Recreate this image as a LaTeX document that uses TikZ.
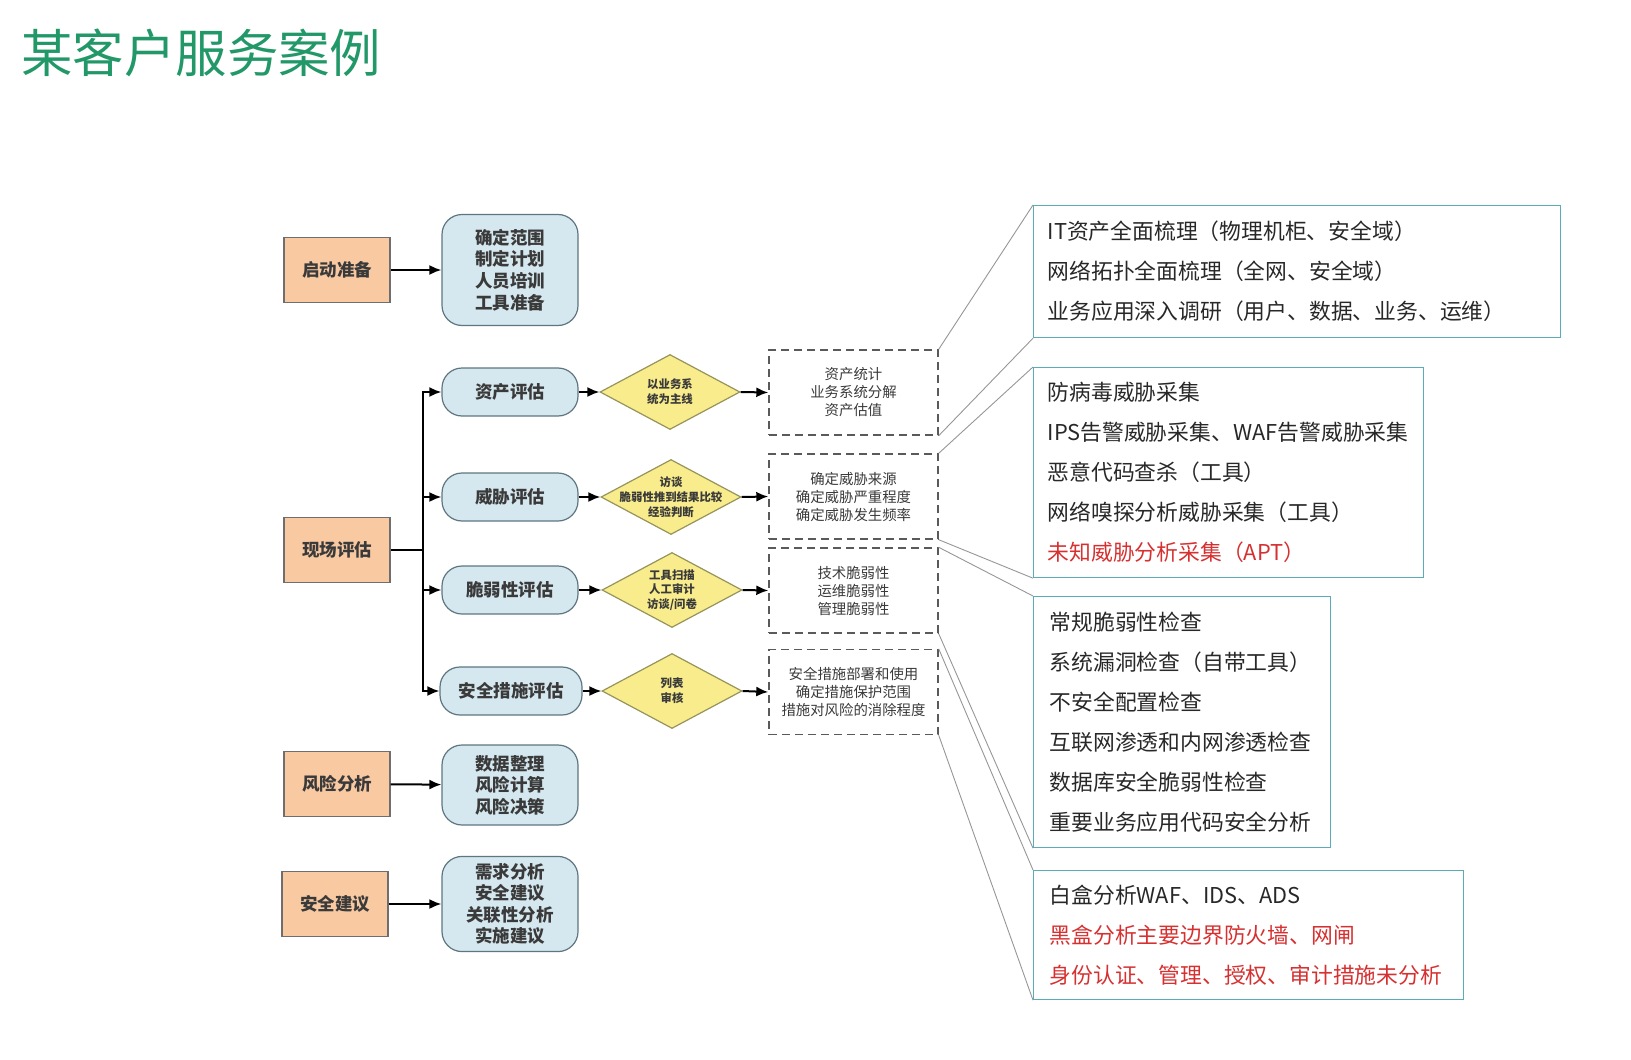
\documentclass[tikz,border=0pt]{standalone}
\usepackage{fontspec}
\usepackage{xcolor}
\setmainfont{Noto Sans CJK SC}
\usepackage{tikz}
\usetikzlibrary{shapes,shapes.geometric,arrows.meta,positioning}
\definecolor{titlegreen}{RGB}{34,152,104}
\definecolor{darktext}{RGB}{58,58,58}
\definecolor{stagefill}{RGB}{249,201,162}
\definecolor{stageline}{RGB}{110,110,110}
\definecolor{taskfill}{RGB}{214,232,239}
\definecolor{taskline}{RGB}{94,118,128}
\definecolor{checkfill}{RGB}{248,236,140}
\definecolor{checkline}{RGB}{150,148,90}
\definecolor{resultline}{RGB}{90,90,90}
\definecolor{infoline}{RGB}{90,172,184}
\definecolor{infotext}{RGB}{40,40,40}
\definecolor{alertred}{RGB}{214,48,48}
\definecolor{zoomgray}{RGB}{150,150,150}
\tikzset{
  stage/.style={draw=stageline, fill=stagefill, line width=0.6pt, minimum width=53pt, minimum height=32.5pt, text=darktext, font=\fontsize{8.75}{10.8}\selectfont\bfseries},
  task/.style={draw=taskline, fill=taskfill, line width=0.6pt, rounded corners=10pt, minimum width=68pt, align=center, text=darktext, font=\fontsize{8.75}{10.8}\selectfont\bfseries},
  check/.style={diamond, draw=checkline, fill=checkfill, line width=0.6pt, minimum width=70pt, minimum height=37.5pt, inner sep=0pt},
  checktext/.style={align=center, inner sep=0pt, text=darktext, font=\fontsize{5.7}{7.4}\selectfont\bfseries},
  result/.style={draw=resultline, dash pattern=on 4pt off 2.5pt, line width=0.7pt, minimum width=84.5pt, minimum height=42.5pt, align=center, text=darktext, font=\fontsize{7.2}{9}\selectfont},
  infobox/.style={draw=infoline, line width=0.6pt, anchor=north west, align=left, inner xsep=7pt, text=infotext, font=\fontsize{10.9}{20}\selectfont},
  flow/.style={-{Latex[length=6pt,width=5pt]}, line width=1pt},
  zoomline/.style={draw=zoomgray, line width=0.45pt}
}
\begin{document}
\begin{tikzpicture}[x=0.5pt,y=-0.5pt]
\useasboundingbox (0,0) rectangle (1631,1059);
\node[anchor=west, inner sep=0pt, text=titlegreen, font=\fontsize{25.7}{30}\selectfont] (title) at (21,53) {某客户服务案例};

% left column
\node[stage] (start) at (337,270) {启动准备};
\node[task, minimum height=55.5pt] (prep) at (510,270) {确定范围\\制定计划\\人员培训\\工具准备};
\node[stage] (onsite) at (337,550) {现场评估};
\node[task, minimum height=24pt] (asset) at (510,392) {资产评估};
\node[task, minimum height=24pt] (threat) at (510,497) {威胁评估};
\node[task, minimum height=24pt] (vuln) at (510,590) {脆弱性评估};
\node[task, minimum height=24pt, minimum width=71pt] (measure) at (511,691) {安全措施评估};
\node[stage] (risk) at (337,784) {风险分析};
\node[task, minimum height=40pt] (riskwork) at (510,785) {数据整理\\风险计算\\风险决策};
\node[stage] (advice) at (335,904) {安全建议};
\node[task, minimum height=47pt] (advicework) at (510,904) {需求分析\\安全建议\\关联性分析\\实施建议};

% methods
\node[check, label={[checktext]center:{以业务系\\统为主线}}] (check1) at (670,392) {};
\node[check, label={[checktext]center:{访谈\\脆弱性推到结果比较\\经验判断}}] (check2) at (671,497) {};
\node[check, label={[checktext]center:{工具扫描\\人工审计\\访谈/问卷}}] (check3) at (672,590) {};
\node[check, label={[checktext]center:{列表\\审核}}] (check4) at (672,691) {};

% outcomes
\node[result] (result1) at (853.5,392.5) {资产统计\\业务系统分解\\资产估值};
\node[result] (result2) at (853.5,496.5) {确定威胁来源\\确定威胁严重程度\\确定威胁发生频率};
\node[result] (result3) at (853.5,590.5) {技术脆弱性\\运维脆弱性\\管理脆弱性};
\node[result] (result4) at (853.5,692) {安全措施部署和使用\\确定措施保护范围\\措施对风险的消除程度};

% details
\node[infobox, text width=249.5pt, minimum height=66pt] (infoA) at (1033,205) {IT资产全面梳理（物理机柜、安全域）\\网络拓扑全面梳理（全网、安全域）\\业务应用深入调研（用户、数据、业务、运维）};
\node[infobox, text width=181pt, minimum height=105pt] (infoB) at (1033,367) {防病毒威胁采集\\IPS告警威胁采集、WAF告警威胁采集\\恶意代码查杀（工具）\\网络嗅探分析威胁采集（工具）\\\textcolor{alertred}{未知威胁分析采集（APT）}};
\node[infobox, inner xsep=8pt, text width=132.5pt, minimum height=125.5pt] (infoC) at (1033,596) {常规脆弱性检查\\系统漏洞检查（自带工具）\\不安全配置检查\\互联网渗透和内网渗透检查\\数据库安全脆弱性检查\\重要业务应用代码安全分析};
\node[infobox, inner xsep=8pt, text width=199pt, minimum height=64.5pt] (infoD) at (1033,870) {白盒分析WAF、IDS、ADS\\\textcolor{alertred}{黑盒分析主要边界防火墙、网闸}\\\textcolor{alertred}{身份认证、管理、授权、审计措施未分析}};

% connectors
\draw[flow] (start) -- (prep);
\draw[flow] (risk) -- (riskwork);
\draw[flow] (advice) -- (advicework);
\coordinate (trunk) at (423,550);
\draw[line width=1pt] (onsite.east) -- (trunk);
\foreach \n in {asset,threat,vuln,measure}
  \draw[flow] (trunk) |- (\n.west);
\foreach \i/\n in {1/asset,2/threat,3/vuln,4/measure} {
  \draw[flow] (\n.east) -- (check\i.west);
  \draw[flow] (check\i.east) -- (result\i.west);
}
\foreach \i/\b in {1/A,2/B,3/C,4/D} {
  \draw[zoomline] (result\i.north east) -- (info\b.north west);
  \draw[zoomline] (result\i.south east) -- (info\b.south west);
}
\end{tikzpicture}
\end{document}
